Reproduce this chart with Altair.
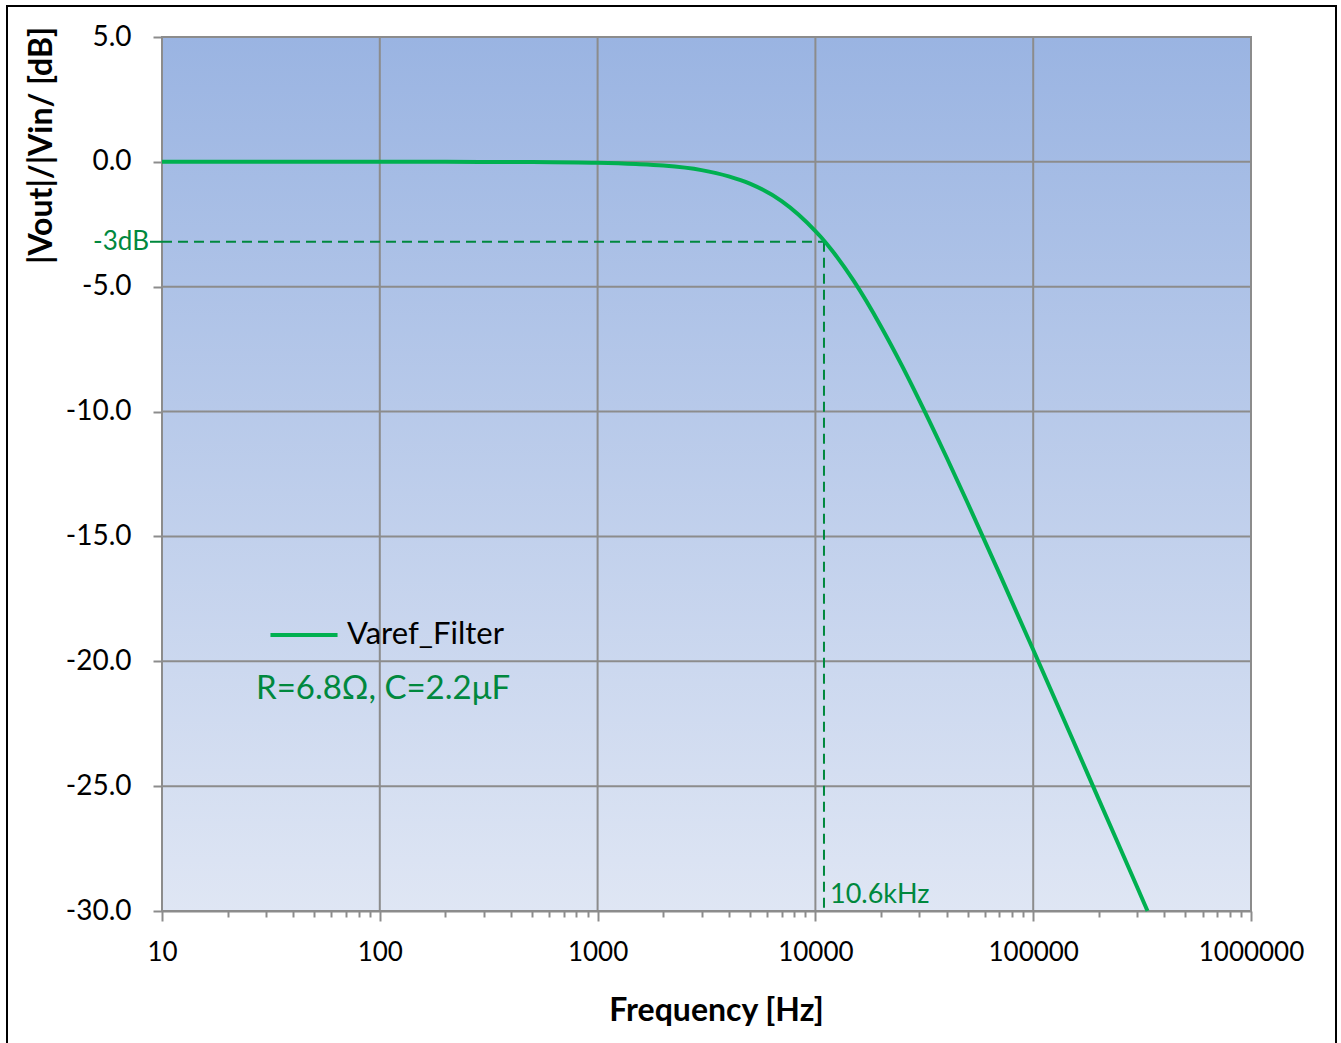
import altair as alt
import pandas as pd

# Curve values (Frequency in Hz, gain in dB)
freq_hz = [10, 20, 50, 100, 200, 500, 1000, 1500, 2000, 3000, 4000, 5000, 7000,
           10000, 10600, 12000, 15000, 20000, 25000, 30000, 40000, 50000, 70000,
           100000, 150000, 200000, 300000, 335000]
gain_db = [0.0, 0.0, 0.0, 0.0, 0.0, -0.01, -0.04, -0.09, -0.15, -0.33, -0.58,
           -0.87, -1.57, -2.77, -3.01, -3.58, -4.77, -6.59, -8.17, -9.55,
           -11.83, -13.66, -16.49, -19.54, -23.03, -25.53, -29.04, -30.0]

x_major = [10, 100, 1000, 10000, 100000, 1000000]
x_minor = [m * d for d in [10, 100, 1000, 10000, 100000] for m in range(2, 10)]
y_ticks = [5, 0, -5, -10, -15, -20, -25, -30]

guide_hz = 10950     # where the dashed guide is drawn in the picture
guide_db = -3.2
series_name = "Varef_Filter"
note = "R=6.8Ω, C=2.2μF"

FONT = "Lato"
W, H = 1089, 874
LINE_GREEN = "#00B050"
DARK_GREEN = "#00883E"
GRID = "#8C8C8C"

df = pd.DataFrame({"f": freq_hz, "db": gain_db, "series": series_name})

xscale = alt.Scale(type="log", domain=[10, 1000000], nice=False)
yscale = alt.Scale(domain=[-30, 5], nice=False, zero=False)

y_axis = alt.Axis(values=y_ticks, grid=False,
                  labelExpr="replace(format(datum.value, '.1f'), '\u2212', '-')",
                  tickColor=GRID, tickWidth=2, tickSize=9,
                  domainColor=GRID, domainWidth=2, labelFont=FONT,
                  labelFontSize=28, labelColor="#000000", labelPadding=22,
                  titleFont=FONT, titleFontSize=32, titleFontWeight="bold",
                  titleColor="#000000", titleAngle=-90,
                  titleX=-121, titleY=108, titleAlign="center",
                  titleBaseline="middle")

# gradient background of plot area (owns the y axis and the major x axis)
box_df = pd.DataFrame({"f": [10], "f2": [1000000], "db": [5], "db2": [-30]})
bg = alt.Chart(box_df).mark_rect(
    fill=alt.Gradient(
        gradient="linear", x1=0, x2=0, y1=0, y2=1,
        stops=[alt.GradientStop(color="#9AB4E2", offset=0),
               alt.GradientStop(color="#DFE6F4", offset=1)],
    )
).encode(
    x=alt.X("f:Q", scale=xscale, title="Frequency [Hz]",
            axis=alt.Axis(values=x_major, format="d", grid=False,
                          tickColor=GRID, tickWidth=2, tickSize=10,
                          domainColor=GRID, domainWidth=2, labelFont=FONT,
                          labelFontSize=26, labelColor="#000000", labelPadding=18,
                          titleFont=FONT, titleFontSize=32, titleFontWeight="bold",
                          titleColor="#000000", titlePadding=30, titleX=554,
                          orient="bottom", labelFlush=False)),
    x2="f2:Q",
    y=alt.Y("db:Q", scale=yscale, title="|Vout|/|Vin/ [dB]", axis=y_axis),
    y2="db2:Q",
)

minor_layer = alt.Chart(df).mark_line(opacity=0).encode(
    x=alt.X("f:Q", scale=xscale,
            axis=alt.Axis(values=x_minor, labels=False, title=None, grid=False,
                          tickColor=GRID, tickWidth=2, tickSize=6, domain=False,
                          orient="bottom")),
    y=alt.Y("db:Q", scale=yscale),
)

# grid lines, drawn through the scales above the background
vgrid = alt.Chart(pd.DataFrame({"f": x_major, "db": [5] * len(x_major),
                                "db2": [-30] * len(x_major)})).mark_rule(
    color=GRID, strokeWidth=2).encode(
    x=alt.X("f:Q", scale=xscale, axis=None),
    y=alt.Y("db:Q", scale=yscale), y2="db2:Q")
hgrid = alt.Chart(pd.DataFrame({"db": y_ticks, "f": [10] * len(y_ticks),
                                "f2": [1000000] * len(y_ticks)})).mark_rule(
    color=GRID, strokeWidth=2).encode(
    x=alt.X("f:Q", scale=xscale, axis=None), x2="f2:Q",
    y=alt.Y("db:Q", scale=yscale))

# dashed -3 dB guide lines
guide_df = pd.DataFrame({"f": [10], "f1": [guide_hz], "db": [guide_db], "d1": [-30]})
hline = alt.Chart(guide_df).mark_rule(color=DARK_GREEN, strokeWidth=2,
                                      strokeDash=[10, 6]).encode(
    x=alt.X("f:Q", scale=xscale, axis=None), x2="f1:Q",
    y=alt.Y("db:Q", scale=yscale))
hstub = alt.Chart(guide_df).mark_rule(color=DARK_GREEN, strokeWidth=2).encode(
    x=alt.value(-12), x2=alt.value(0),
    y=alt.Y("db:Q", scale=yscale))
vline = alt.Chart(guide_df).mark_rule(color=DARK_GREEN, strokeWidth=2,
                                      strokeDash=[10, 6]).encode(
    x=alt.X("f1:Q", scale=xscale, axis=None),
    y=alt.Y("db:Q", scale=yscale), y2="d1:Q")

label_3db = alt.Chart(guide_df).mark_text(
    text="-3dB", font=FONT, fontSize=26, color=DARK_GREEN, align="right",
    baseline="middle", dx=-13).encode(
    x=alt.value(0), y=alt.Y("db:Q", scale=yscale))
label_fc = alt.Chart(guide_df).mark_text(
    text="10.6kHz", font=FONT, fontSize=27, color=DARK_GREEN, align="left",
    baseline="bottom", dx=6, dy=-2).encode(
    x=alt.X("f1:Q", scale=xscale, axis=None),
    y=alt.Y("d1:Q", scale=yscale))

curve = alt.Chart(df).mark_line(strokeWidth=4, color=LINE_GREEN,
                                interpolate="monotone").encode(
    x=alt.X("f:Q", scale=xscale, axis=None),
    y=alt.Y("db:Q", scale=yscale),
    stroke=alt.Stroke("series:N", scale=alt.Scale(range=[LINE_GREEN]),
                      legend=alt.Legend(title=None, orient="none", legendX=106,
                                        legendY=562, symbolType="stroke",
                                        symbolSize=4500, symbolStrokeWidth=4,
                                        labelFont=FONT, labelFontSize=31,
                                        labelColor="#000000", labelOffset=7)),
)

note_df = pd.DataFrame({"f": [27], "db": [-21.1]})
note_text = alt.Chart(note_df).mark_text(
    text=note, font=FONT, fontSize=33, color=DARK_GREEN, align="left",
    baseline="middle").encode(
    x=alt.X("f:Q", scale=xscale, axis=None),
    y=alt.Y("db:Q", scale=yscale))

frame = alt.Chart(pd.DataFrame({"a": [0]})).mark_rect(
    fill=None, stroke="#000000", strokeWidth=2).encode(
    x=alt.value(-155), x2=alt.value(1174), y=alt.value(-31), y2=alt.value(1010))

chart = alt.layer(
    bg, minor_layer, vgrid, hgrid, hline, hstub, vline, label_3db, label_fc,
    note_text, curve, frame
).resolve_axis(x="independent").properties(
    width=W, height=H,
    autosize=alt.AutoSizeParams(type="none"),
    padding={"left": 162, "top": 37, "right": 90, "bottom": 132},
    background="#FFFFFF",
).configure_view(stroke=GRID, strokeWidth=2)

chart.save("out.html", embed_options={"renderer": "svg", "actions": False})
